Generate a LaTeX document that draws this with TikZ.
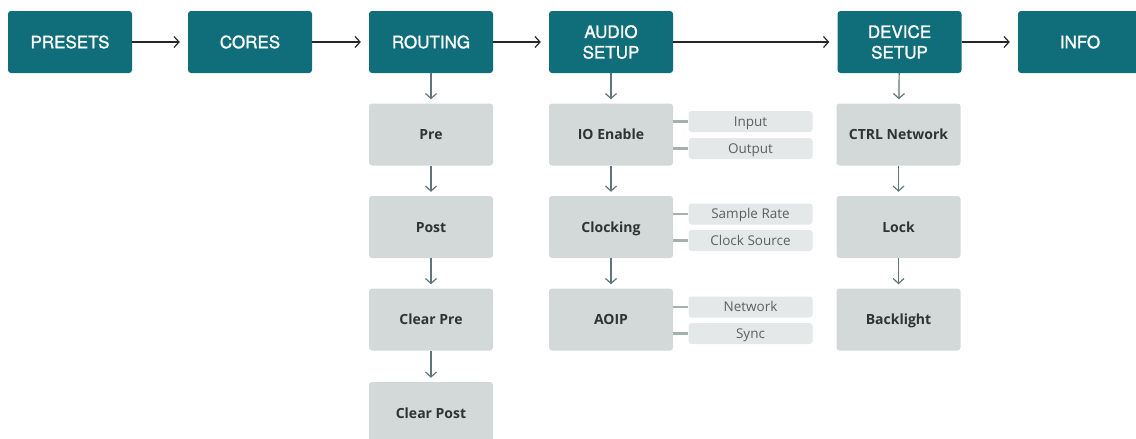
\documentclass[tikz,border=0pt]{standalone}
\usepackage{fontspec}
\setmainfont{Open Sans}
\newfontfamily\topfont{TeX Gyre Heros}[FakeBold=1.4]
\usetikzlibrary{arrows.meta}
\definecolor{teal}{HTML}{0F6E7A}
\definecolor{boxgray}{HTML}{D3D8D8}
\definecolor{subgray}{HTML}{E5E8E8}
\definecolor{linkgray}{HTML}{A5B0B0}
\definecolor{arrgray}{HTML}{5F7579}
\definecolor{txtdark}{HTML}{2E3333}
\definecolor{txtgray}{HTML}{5A6060}
\tikzset{
  topbox/.style={fill=teal, rounded corners=3pt, minimum width=124pt, minimum height=62pt,
    text=white, font=\topfont\fontsize{17}{20.6}\selectfont, align=center, inner sep=0pt},
  graybox/.style={fill=boxgray, rounded corners=3pt, minimum width=124pt, minimum height=62pt,
    text=txtdark, font=\bfseries\fontsize{14}{16}\selectfont, inner sep=0pt,
    text height=10pt, text depth=0pt},
  subbox/.style={fill=subgray, rounded corners=3pt, minimum width=124pt, minimum height=21pt,
    text=txtgray, font=\fontsize{13.5}{14}\selectfont, inner sep=0pt,
    text height=9.6pt, text depth=0pt},
  toparrow/.style={draw=black!85, line width=1.2pt, -{Straight Barb[length=5pt,width=11pt,line width=1.2pt]}, shorten >=8pt},
  downarrow/.style={draw=arrgray, line width=1.2pt, -{Straight Barb[length=5pt,width=11pt,line width=1.2pt]}, shorten >=4pt, shorten <=0pt},
  link/.style={draw=linkgray, line width=2.5pt}
}
\begin{document}
\begin{tikzpicture}[x=1pt,y=-1pt]
\useasboundingbox (0,0) rectangle (1136,439);
\begin{scope}
\clip (0,0) rectangle (1136,439);
% top row
\node[topbox] (presets) at (70,42) {PRESETS};
\node[topbox] (cores) at (250,42) {CORES};
\node[topbox] (routing) at (431,42) {ROUTING};
\node[topbox] (audio) at (611,42) {AUDIO\\SETUP};
\node[topbox] (device) at (899.5,42) {DEVICE\\SETUP};
\node[topbox] (info) at (1080,42) {INFO};
\draw[toparrow] (presets) -- (cores);
\draw[toparrow] (cores) -- (routing);
\draw[toparrow] (routing) -- (audio);
\draw[toparrow] (audio) -- (device);
\draw[toparrow] (device) -- (info);
% routing column
\node[graybox] (pre) at (431,134.5) {Pre};
\node[graybox] (post) at (431,227) {Post};
\node[graybox] (clearpre) at (431,319.5) {Clear Pre};
\node[graybox] (clearpost) at (431,413) {Clear Post};
\draw[downarrow] (routing) -- (pre);
\draw[downarrow] (pre) -- (post);
\draw[downarrow] (post) -- (clearpre);
\draw[downarrow] (clearpre) -- (clearpost);
% audio column
\node[graybox] (io) at (611,134.5) {IO Enable};
\node[graybox] (clock) at (611,227) {Clocking};
\node[graybox] (aoip) at (611,319.5) {AOIP};
\draw[downarrow] (audio) -- (io);
\draw[downarrow] (io) -- (clock);
\draw[downarrow] (clock) -- (aoip);
\node[subbox] (input) at (750.5,121.5) {Input};
\node[subbox] (output) at (750.5,148.5) {Output};
\node[subbox] (srate) at (750.5,214) {Sample Rate};
\node[subbox] (csource) at (750.5,240.5) {Clock Source};
\node[subbox] (network) at (750.5,307) {Network};
\node[subbox] (sync) at (750.5,333.5) {Sync};
\draw[link] (io.east |- input) -- (input);
\draw[link] (io.east |- output) -- (output);
\draw[link] (clock.east |- srate) -- (srate);
\draw[link] (clock.east |- csource) -- (csource);
\draw[link] (aoip.east |- network) -- (network);
\draw[link] (aoip.east |- sync) -- (sync);
% device column
\node[graybox] (ctrl) at (898.5,134.5) {CTRL Network};
\node[graybox] (lock) at (898.5,227) {Lock};
\node[graybox] (backlight) at (898.5,319.5) {Backlight};
\draw[downarrow] (device) -- (ctrl);
\draw[downarrow] (ctrl) -- (lock);
\draw[downarrow] (lock) -- (backlight);
\end{scope}
\end{tikzpicture}
\end{document}
